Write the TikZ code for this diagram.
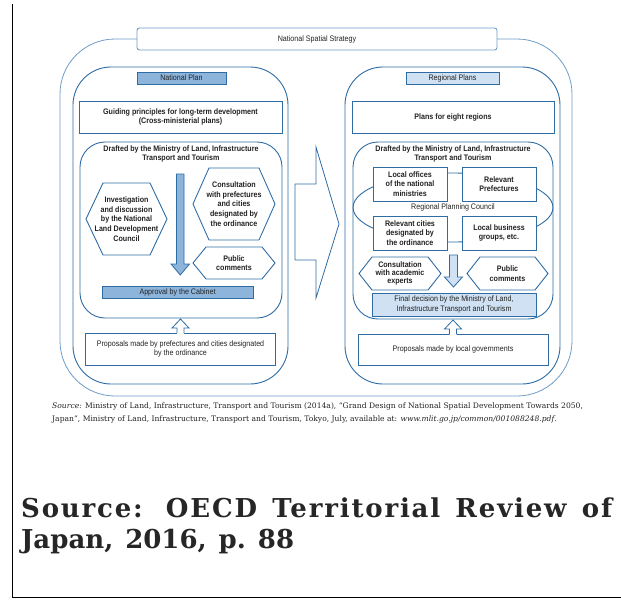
\documentclass[tikz,border=0pt]{standalone}
\usepackage{fontspec}
\setmainfont{Liberation Sans}
\newfontfamily\cnd[FakeStretch=0.89]{Liberation Sans}
\newfontfamily\srcfont[Ligatures=TeX]{DejaVu Serif}
\newfontfamily\bigfont{DejaVu Serif}
\newfontfamily\bigfontls[LetterSpace=7]{DejaVu Serif}
\usetikzlibrary{shapes.geometric}
\definecolor{ln}{HTML}{2F6CA3}
\definecolor{lnout}{HTML}{6E9CC8}
\definecolor{fmid}{HTML}{8DB4DB}
\definecolor{flight}{HTML}{CFE1F2}
\definecolor{txt}{HTML}{222222}
\newcommand\hexshape[5]{% cx cy hw hh inset
  \draw[hexs] (#1-#3,#2) -- (#1-#3+#5,#2-#4) -- (#1+#3-#5,#2-#4) -- (#1+#3,#2)
    -- (#1+#3-#5,#2+#4) -- (#1-#3+#5,#2+#4) -- cycle;}
\newcommand\bigsp{\hspace{12pt}}
\tikzset{
  bt/.style={font=\cnd\bfseries\fontsize{8}{9.6}\selectfont},
  rt/.style={font=\cnd\fontsize{8}{9.6}\selectfont},
  box/.style={draw=ln, line width=0.9pt, fill=white, inner sep=0pt, align=center, text=txt},
  panel/.style={draw=ln, line width=0.9pt, fill=white, inner sep=0pt},
  hexs/.style={draw=ln, line width=0.9pt, fill=white},
  lbl/.style={inner sep=0pt, align=center, text=txt},
  arr/.style={draw=ln, line width=0.8pt, line join=miter},
  srct/.style={anchor=base west, inner sep=0pt, text=txt, font=\srcfont\fontsize{7.6}{10}\selectfont},
  bigt/.style={anchor=base west, inner sep=0pt, text=black!85},
}
\begin{document}
\begin{tikzpicture}[x=1pt,y=-1pt]
\useasboundingbox (0,0) rectangle (621,600);
% black frame
\draw[black, line width=1.6pt] (12.5,4) -- (12.5,597.5) -- (621,597.5);
% outer frame
\draw[lnout, line width=0.8pt, rounded corners=55] (60,39) rectangle (572,396);
\node[box, draw=lnout, rounded corners=2.5, minimum width=360, minimum height=22, rt] (title) at (317,39) {National Spatial Strategy};
% ---------- National plan ----------
\node[panel, minimum width=215, minimum height=317, rounded corners=38] (natpanel) at (180.5,225.5) {};
\node[box, fill=fmid, minimum width=89, minimum height=12, rt] (natlabel) at (181.5,78) {National Plan};
\node[box, minimum width=203, minimum height=32, bt] (guiding) at (180.5,117) {Guiding principles for long-term development\\(Cross-ministerial plans)};
\node[panel, minimum width=202, minimum height=176, rounded corners=25] (natdraft) at (181,230) {};
\node[lbl, bt] (natdrafttxt) at (181,154) {Drafted by the Ministry of Land, Infrastructure\\Transport and Tourism};
\hexshape{126.5}{219}{40.5}{36}{17}
\node[lbl, bt] (invest) at (126.5,219) {Investigation\\and discussion\\by the National\\Land Development\\Council};
\hexshape{234}{204}{41}{36}{16}
\node[lbl, bt] (consult) at (234,204) {Consultation\\with prefectures\\and cities\\designated by\\the ordinance};
\hexshape{234}{263}{41}{16}{13}
\node[lbl, bt] (natpublic) at (234,263) {Public\\comments};
\draw[arr, fill=fmid] (176.5,174) -- (184,174) -- (184,264) -- (189.5,264) -- (180.25,275) -- (171,264) -- (176.5,264) -- cycle;
\node[box, fill=fmid, minimum width=151, minimum height=12, rt] (approval) at (177.5,292) {Approval by the Cabinet};
\node[box, minimum width=190, minimum height=32, rt] (natprop) at (180.5,349) {Proposals made by prefectures and cities designated\\by the ordinance};
\fill[white] (172,328) -- (180.5,319) -- (189,328) -- (184,328) -- (184,333.8) -- (177,333.8) -- (177,328) -- cycle;
\draw[arr] (177,333) -- (177,328) -- (172,328) -- (180.5,319) -- (189,328) -- (184,328) -- (184,333);
% ---------- big arrow ----------
\draw[arr] (295,184) -- (316,184) -- (316,147) -- (339,224) -- (316,298) -- (316,260) -- (295,260) -- cycle;
% ---------- Regional plans ----------
\node[panel, minimum width=215, minimum height=317, rounded corners=38] (regpanel) at (452.5,225.5) {};
\node[box, fill=flight, minimum width=93, minimum height=12, rt] (reglabel) at (452.5,78) {Regional Plans};
\node[box, minimum width=202, minimum height=32, bt] (eight) at (453,117) {Plans for eight regions};
\node[panel, minimum width=200, minimum height=177, rounded corners=25] (regdraft) at (453,230.5) {};
\node[lbl, bt] (regdrafttxt) at (453,154) {Drafted by the Ministry of Land, Infrastructure\\Transport and Tourism};
\node[draw=ln, line width=0.9pt, ellipse, minimum width=200, minimum height=69, inner sep=0pt, text=txt, rt] (council) at (453,207.5) {Regional Planning Council};
\node[box, minimum width=74, minimum height=34, bt] (local) at (410,184) {Local offices\\of the national\\ministries};
\node[box, minimum width=74, minimum height=34, bt] (pref) at (499,184) {Relevant\\Prefectures};
\node[box, minimum width=74, minimum height=34, bt] (cities) at (410,233) {Relevant cities\\designated by\\the ordinance};
\node[box, minimum width=74, minimum height=34, bt] (business) at (499,233) {Local business\\groups, etc.};
\hexshape{400}{273.5}{41}{16.5}{13}
\node[lbl, font=\cnd\bfseries\fontsize{8}{8}\selectfont] (academic) at (400,273.5) {Consultation\\with academic\\experts};
\hexshape{507.5}{273.5}{40.5}{16.5}{13}
\node[lbl, bt] (regpublic) at (507.5,273.5) {Public\\comments};
\draw[arr, fill=flight] (449.5,255) -- (457.5,255) -- (457.5,277) -- (462.5,277) -- (453.5,287) -- (444.5,277) -- (449.5,277) -- cycle;
\node[box, fill=flight, minimum width=164, minimum height=23, rt] (final) at (454,304.5) {Final decision by the Ministry of Land,\\Infrastructure Transport and Tourism};
\node[box, minimum width=190, minimum height=31, rt] (regprop) at (453,349.5) {Proposals made by local governments};
\fill[white] (444.5,329) -- (453,320) -- (461.5,329) -- (456.5,329) -- (456.5,334.8) -- (449.5,334.8) -- (449.5,329) -- cycle;
\draw[arr] (449.5,334) -- (449.5,329) -- (444.5,329) -- (453,320) -- (461.5,329) -- (456.5,329) -- (456.5,334);
% ---------- source ----------
\node[srct] (src1) at (52,408) {\textit{Source:} Ministry of Land, Infrastructure, Transport and Tourism (2014a), “Grand Design of National Spatial Development Towards 2050,};
\node[srct] (src2) at (52,421) {Japan”, Ministry of Land, Infrastructure, Transport and Tourism, Tokyo, July, available at: \textit{www.mlit.go.jp/common/001088248.pdf}.};
\node[bigt, font=\bigfontls\bfseries\fontsize{26}{32}\selectfont] (big1) at (21,517) {\makebox[591pt][s]{Source: OECD Territorial Review of}};
\node[bigt, font=\bigfont\bfseries\fontsize{26}{32}\selectfont] (big2) at (21,548) {Japan,\bigsp 2016,\bigsp p.\bigsp 88};
\end{tikzpicture}
\end{document}
